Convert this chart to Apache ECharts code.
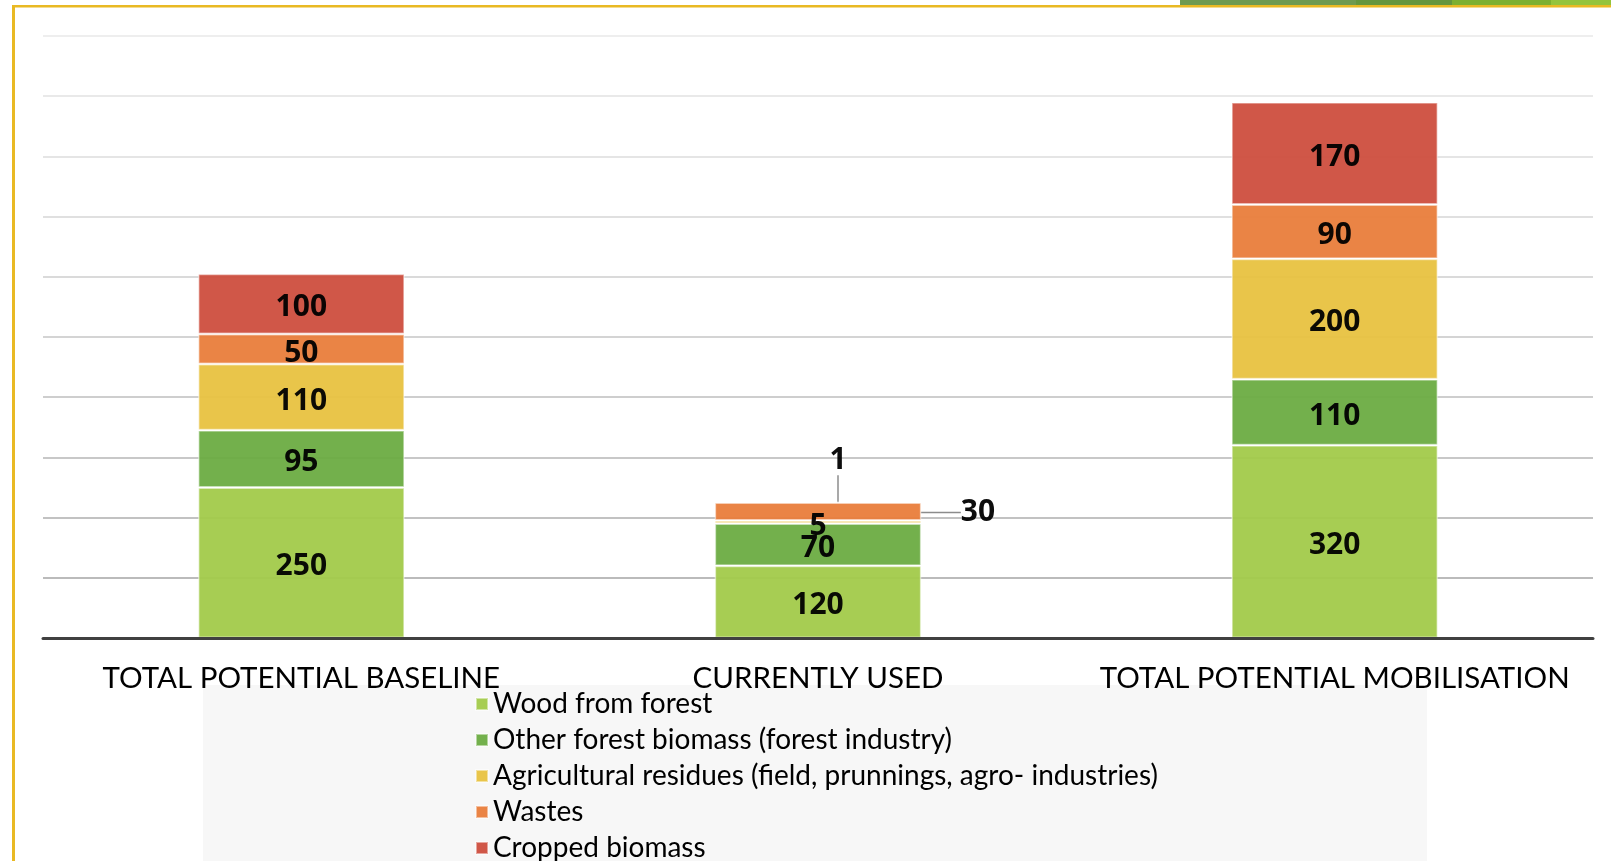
<!DOCTYPE html>
<html>
<head>
<meta charset="utf-8">
<script src="https://cdn.jsdelivr.net/npm/echarts@6/dist/echarts.min.js"></script>
<style>
    html, body { margin: 0; padding: 0; background: #ffffff; }
    #chart { width: 1611px; height: 861px; }
</style>
</head>
<body>
<div id="chart"></div>
<script>
// categories and values
const categories = ['TOTAL POTENTIAL BASELINE', 'CURRENTLY USED', 'TOTAL POTENTIAL MOBILISATION']
const seriesNames = [
    'Wood from forest',
    'Other forest biomass (forest industry)',
    'Agricultural residues (field, prunnings, agro- industries)',
    'Wastes',
    'Cropped biomass'
]
const woodFromForest = [250, 120, 320]
const otherForestBiomass = [95, 70, 110]
const agriculturalResidues = [110, 5, 200]
const wastes = [50, 30, 90]
const croppedBiomass = [100, 1, 170]
const yTicks = [0, 100, 200, 300, 400, 500, 600, 700, 800, 900, 1000]

const colors = ['#A2CA4A', '#6BAC42', '#E8C240', '#E97D3B', '#CD4E3E']
const allValues = [woodFromForest, otherForestBiomass, agriculturalResidues, wastes, croppedBiomass]

// labels on the thin slices of the middle bar are pushed out with a guide line
const movedLabels = {
    '3-1': { dx: 160, dy: 1 },
    '4-1': { dx: 20, dy: -42 }
}

const chart = echarts.init(document.getElementById('chart'), null, { renderer: 'canvas' })

const series = allValues.map((vals, si) => ({
    name: seriesNames[si],
    type: 'bar',
    stack: 'total',
    barWidth: '40%',
    itemStyle: {
        color: colors[si],
        opacity: 0.95,
        borderColor: 'rgba(255,255,255,0.5)',
        borderWidth: 1.5
    },
    label: {
        show: true,
        position: 'inside',
        color: '#000',
        fontFamily: 'Noto Sans',
        fontWeight: 'bold',
        fontSize: 30
    },
    labelLine: {
        lineStyle: { color: '#8c8c8c', width: 1.5 }
    },
    labelLayout: params => movedLabels[si + '-' + params.dataIndex] || { dy: 4 },
    data: vals.map((v, di) => movedLabels[si + '-' + di]
        ? { value: v, labelLine: { show: true } }
        : v)
}))

const splitColors = ['#9a9a9a', '#a4a4a4', '#aeaeae', '#b6b6b6', '#bebebe', '#c6c6c6',
    '#cecece', '#d6d6d6', '#dcdcdc', '#e2e2e2', '#e8e8e8']

chart.setOption({
    backgroundColor: '#ffffff',
    animation: false,
    grid: { left: 43, right: 18, top: 36, bottom: 223 },
    graphic: [
        // slide frame
        { type: 'rect', shape: { x: 12, y: 5, width: 3, height: 856 }, style: { fill: '#E9B923' }, z: 0 },
        { type: 'rect', shape: { x: 12, y: 5, width: 1599, height: 2.5 }, style: { fill: '#E9B923' }, z: 0 },
        { type: 'rect', shape: { x: 1180, y: 0, width: 176, height: 5 }, style: { fill: '#6E9A50' }, z: 0 },
        { type: 'rect', shape: { x: 1356, y: 0, width: 96, height: 5 }, style: { fill: '#64963E' }, z: 0 },
        { type: 'rect', shape: { x: 1452, y: 0, width: 99, height: 5 }, style: { fill: '#7DB030' }, z: 0 },
        { type: 'rect', shape: { x: 1551, y: 0, width: 60, height: 5 }, style: { fill: '#94C43C' }, z: 0 },
        // legend background
        { type: 'rect', shape: { x: 203, y: 685, width: 1224, height: 176 }, style: { fill: '#F7F7F7' }, z: 0 }
    ],
    legend: {
        orient: 'vertical',
        left: 475,
        top: 690,
        height: 400,
        padding: 0,
        itemGap: 8,
        itemWidth: 12,
        itemHeight: 12,
        icon: 'rect',
        selectedMode: false,
        textStyle: {
            fontFamily: 'Lato',
            fontSize: 28,
            color: '#000'
        },
        data: seriesNames
    },
    xAxis: {
        type: 'category',
        data: categories,
        z: 10,
        axisLine: { show: true, lineStyle: { color: '#404040', width: 3 } },
        axisTick: { show: false },
        axisLabel: {
            color: '#000',
            fontFamily: 'Lato',
            fontSize: 29.5,
            margin: 25,
            interval: 0
        }
    },
    yAxis: {
        type: 'value',
        min: yTicks[0],
        max: yTicks[yTicks.length - 1],
        interval: yTicks[1] - yTicks[0],
        axisLabel: { show: false },
        axisLine: { show: false },
        axisTick: { show: false },
        splitLine: { lineStyle: { color: splitColors, width: 1.5 } }
    },
    series: series
})
</script>
</body>
</html>
